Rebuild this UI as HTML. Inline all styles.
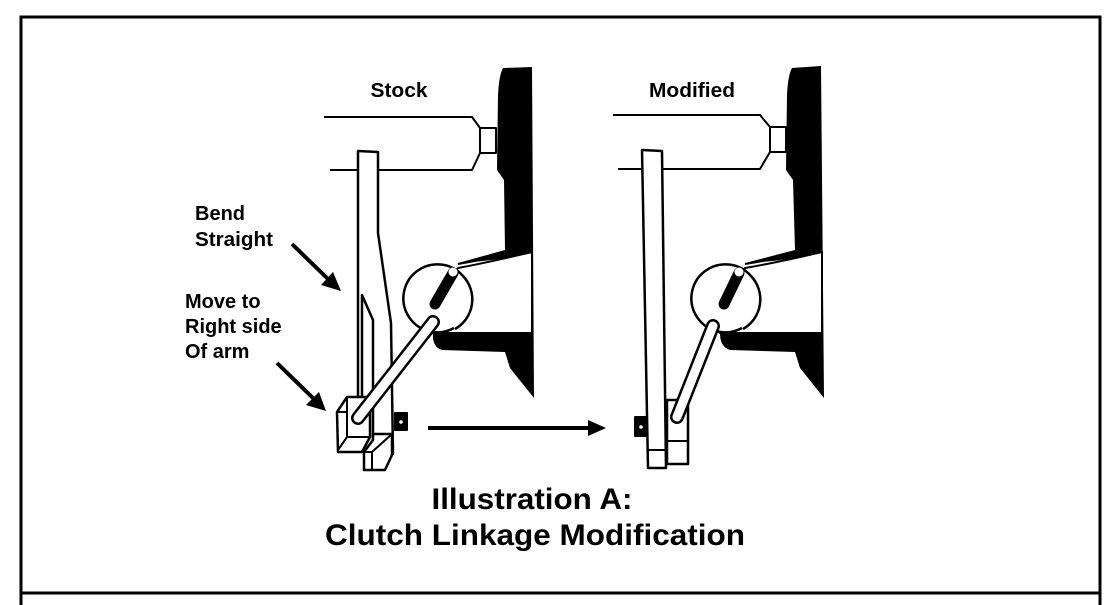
<!DOCTYPE html>
<html><head><meta charset="utf-8"><style>
html,body{margin:0;padding:0;background:#fff;}
svg{display:block;}
text{font-family:"Liberation Sans",Arial,sans-serif;font-weight:bold;fill:#000;}
</style></head><body>
<svg width="1112" height="605" viewBox="0 0 1112 605" xmlns="http://www.w3.org/2000/svg">
<rect x="0" y="0" width="1112" height="605" fill="#fff"/>
<polyline points="21,605 21,17 1100,17 1100,605" fill="none" stroke="#000" stroke-width="3"/>
<line x1="21" y1="593" x2="1100" y2="593" stroke="#000" stroke-width="3"/>

<g stroke="#000" stroke-width="2" fill="none" stroke-linejoin="round">
<!-- ===== STOCK ===== -->
<polyline points="324,117 472,117 480,128 480,153 472,170 330,170"/>
<rect x="480" y="128" width="16" height="25" fill="#fff"/>
<path d="M503,68 L532,67 L534,398 L510,368 L505,352 L442,350 Q432,347 433,333 L505,333 L505,258 Q480,262 458,263 L505,250 L504,180 L497,170 L498,95 Q499,75 503,68 Z" fill="#000" stroke="none"/>
<path d="M458,268 Q490,262 532,252 L532,333 L433,333 L433,300 Z" fill="#fff" stroke="#000"/>
<path d="M458,264 Q495,258 532,246" stroke="#000" stroke-width="2"/>
<path d="M454,328 A34,34 0 1,1 463,276" fill="#fff" stroke-width="2.5"/>
<path d="M463,276 A34,34 0 0,1 455,329" stroke-width="2.5"/>
<line x1="435" y1="304" x2="453" y2="273" stroke="#000" stroke-width="11" stroke-linecap="round"/>
<circle cx="453" cy="272" r="4.5" fill="#fff" stroke="none"/>
<!-- arm stock -->
<path d="M358,151 L378,152 L378,233 L391,323 L393,454 L373,454 L373,320 L362,295 L362,397 L358,397 Z" fill="#fff" stroke-width="2.5"/>
<!-- block 2 -->
<path d="M373,434 L392,434 L392,455 L385,470 L364,470 L364,452 L373,440 Z" fill="#fff" stroke-width="2.5"/>
<polyline points="364,452 372,452 392,434"/>
<line x1="372" y1="452" x2="372" y2="470"/>
<!-- block 1 -->
<path d="M347,397 L370,397 L370,437 L362,452 L338,452 L337,412 Z" fill="#fff" stroke-width="2.5"/>
<polyline points="337,412 347,412 347,437 338,450"/>
<line x1="347" y1="437" x2="370" y2="437"/>
<line x1="347" y1="397" x2="347" y2="412"/>
<line x1="433" y1="322" x2="358" y2="418" stroke="#000" stroke-width="14" stroke-linecap="round"/>
<line x1="433" y1="322" x2="358" y2="418" stroke="#fff" stroke-width="9" stroke-linecap="round"/>
<rect x="395" y="413" width="12" height="17" fill="#000"/>
<circle cx="401" cy="422" r="1.8" fill="#fff" stroke="none"/>

<!-- ===== MODIFIED ===== -->
<polyline points="613,115 760,115 770,127 770,152 760,169 618,169"/>
<rect x="770" y="127" width="16" height="25" fill="#fff"/>
<path d="M792,68 L821,66 L824,398 L800,368 L795,352 L730,350 Q720,347 720,333 L795,333 L795,258 Q770,262 745,263 L795,250 L793,180 L786,170 L787,95 Q788,75 792,68 Z" fill="#000" stroke="none"/>
<path d="M745,268 Q780,262 822,252 L822,333 L720,333 L720,300 Z" fill="#fff" stroke="#000"/>
<path d="M745,264 Q785,258 822,246"/>
<path d="M742,328 A34,34 0 1,1 751,276" fill="#fff" stroke-width="2.5"/>
<path d="M751,276 A34,34 0 0,1 743,329" stroke-width="2.5"/>
<line x1="724" y1="304" x2="739" y2="273" stroke="#000" stroke-width="11" stroke-linecap="round"/>
<circle cx="739" cy="272" r="4.5" fill="#fff" stroke="none"/>
<rect x="667" y="400" width="21" height="64" fill="#fff" stroke-width="2.5"/>
<line x1="667" y1="441" x2="688" y2="441"/>
<line x1="713" y1="326" x2="677" y2="417" stroke="#000" stroke-width="14" stroke-linecap="round"/>
<line x1="713" y1="326" x2="677" y2="417" stroke="#fff" stroke-width="9" stroke-linecap="round"/>
<path d="M642,150 L662,151 L666,468 L648,468 Z" fill="#fff" stroke-width="2.5"/>
<line x1="647" y1="450" x2="665" y2="450"/>
<rect x="635" y="417" width="12" height="19" fill="#000"/>
<circle cx="641" cy="427" r="1.8" fill="#fff" stroke="none"/>
</g>

<g stroke="#000" stroke-width="4" fill="#000">
<line x1="428" y1="428" x2="590" y2="428"/>
<polygon points="606,428 588,420 588,436" stroke="none"/>
<line x1="292" y1="244" x2="328" y2="279"/>
<polygon points="341,291 321,285 333,272" stroke="none"/>
<line x1="277" y1="363" x2="314" y2="399"/>
<polygon points="326,411 306,405 319,392" stroke="none"/>
</g>

<text x="399" y="97" font-size="20" text-anchor="middle" textLength="57" lengthAdjust="spacingAndGlyphs">Stock</text>
<text x="692" y="97" font-size="20" text-anchor="middle" textLength="86" lengthAdjust="spacingAndGlyphs">Modified</text>
<text x="195" y="220" font-size="20">Bend</text>
<text x="195" y="246" font-size="20" textLength="78" lengthAdjust="spacingAndGlyphs">Straight</text>
<text x="185" y="308" font-size="20">Move to</text>
<text x="185" y="333" font-size="20">Right side</text>
<text x="185" y="358" font-size="20">Of arm</text>
<text x="532" y="509" font-size="30" text-anchor="middle" textLength="201" lengthAdjust="spacingAndGlyphs">Illustration A:</text>
<text x="535" y="545" font-size="30" text-anchor="middle" textLength="420" lengthAdjust="spacingAndGlyphs">Clutch Linkage Modification</text>
</svg>
</body></html>
